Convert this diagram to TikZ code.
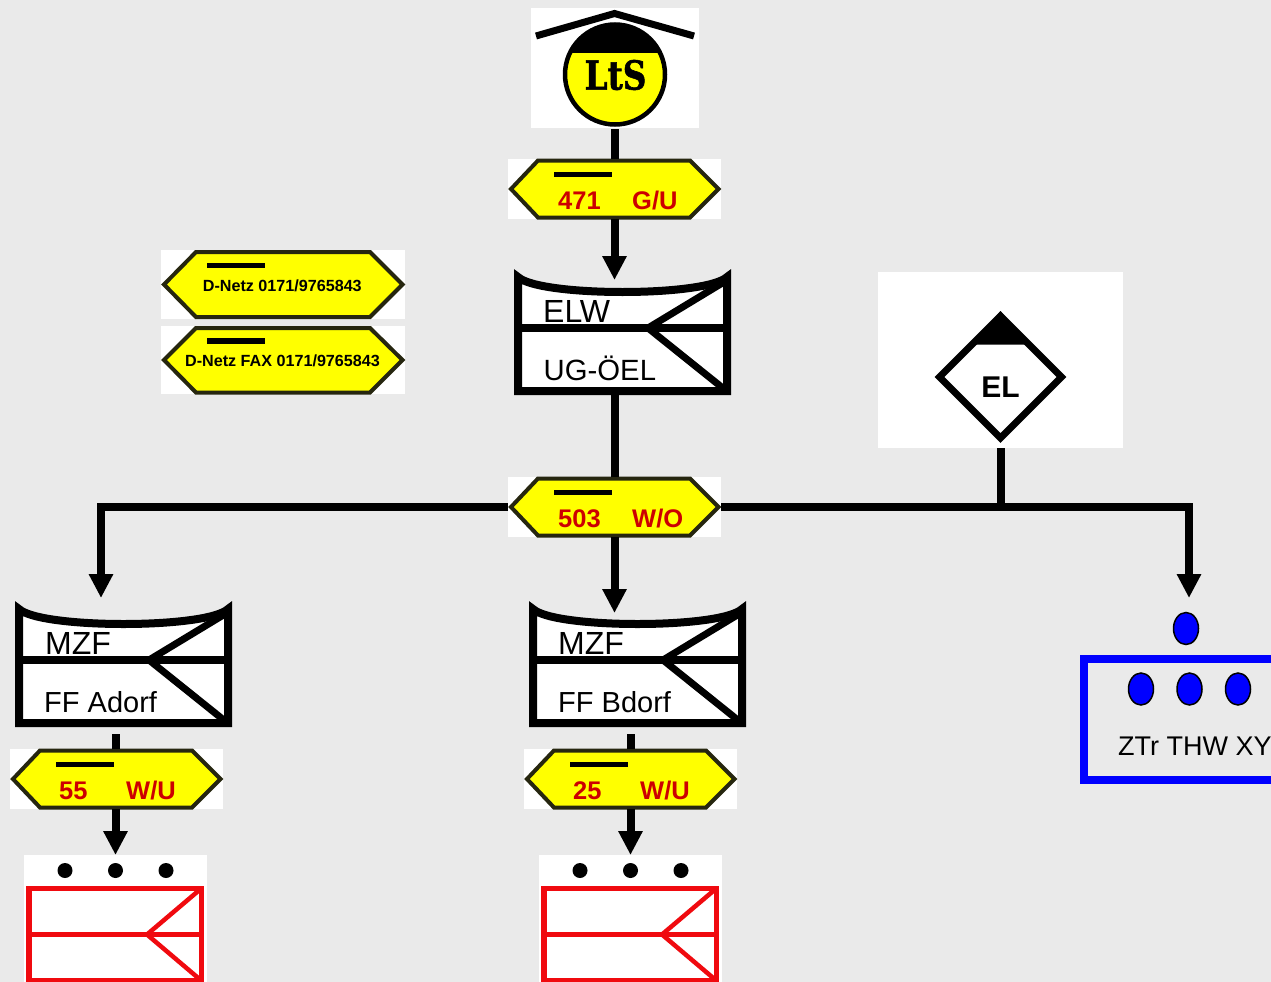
\documentclass[tikz,border=0pt]{standalone}
\usepackage{fontspec}
\setmainfont{Liberation Sans}
\newfontfamily\ltsfont[BoldFeatures={FakeBold=1.5}]{DejaVu Serif}
\usetikzlibrary{arrows.meta,shapes.geometric}
\definecolor{bg}{HTML}{EAEAEA}
\definecolor{signyellow}{HTML}{FFFF00}
\definecolor{signred}{HTML}{CC0000}
\definecolor{signedge}{HTML}{26260F}
\definecolor{tacred}{HTML}{F00A0F}
\definecolor{tacblue}{HTML}{0000FF}
\newcommand{\fs}[1]{\fontsize{#1}{#1}\selectfont}
\tikzset{
  x=1pt,y=-1pt,
  panel/.style={rectangle,fill=white,inner sep=0pt,outer sep=0pt},
  conn/.style={line width=8pt,black},
  arrowconn/.style={conn,line join=miter,-{Triangle[length=24pt,width=23pt]}},
  signedgeline/.style={draw=signedge,fill=signyellow,line width=4pt,line join=miter},
  signbar/.style={line width=5.5pt,black},
  signtext/.style={inner sep=0pt,anchor=base west,text=signred,font=\fs{25.5}\bfseries},
  phonetext/.style={inner sep=0pt,font=\fs{16.15}\bfseries,text=black},
  tactext/.style={inner sep=0pt,anchor=base west,font=\fs{32},text=black},
  blackdot/.style={circle,fill=black,inner sep=0pt,minimum size=15pt},
  bluedot/.style={ellipse,draw=black,fill=tacblue,line width=1.5pt,inner sep=0pt,minimum width=25pt,minimum height=32pt},
}
% sign: name, left, top of a 213x60 white panel
\newcommand{\signplate}[3]{%
  \node[panel,minimum width=213pt,minimum height=60pt,anchor=north west] (#1) at (#2,#3) {};
  \begin{scope}[shift={(#2,#3)}]
    \path[signedgeline] (3,30) -- (30,1.5) -- (182,1.5) -- (210.5,30) -- (182,58.5) -- (30,58.5) -- cycle;
    \draw[signbar] (46,15.5) -- (104,15.5);
  \end{scope}}
% tactical box: name, dx, dy relative to the ELW box
\newcommand{\tacbox}[3]{%
  \node[rectangle,inner sep=0pt,outer sep=0pt,minimum width=217pt,minimum height=124pt,anchor=north west] (#1) at (514+#2,271+#3) {};
  \begin{scope}[shift={(#2,#3)}]
    \path[fill=white] (518,277) .. controls (540,297) and (705,297) .. (727,277) -- (727,391) -- (518,391) -- cycle;
    \draw[line width=8pt,black,line join=miter,miter limit=10] (518,277) .. controls (540,297) and (705,297) .. (727,277) -- (727,391) -- (518,391) -- cycle;
    \draw[line width=7.5pt,black] (518,328) -- (727,328);
    \draw[line width=7pt,black,line join=miter] (724,282) -- (648,328) -- (724,389);
  \end{scope}}
% red box: name, dx
\newcommand{\redbox}[2]{%
  \node[panel,minimum width=183pt,minimum height=127pt,anchor=north west] (#1) at (24+#2,855) {};
  \begin{scope}[shift={(#2,0)}]
    \node[blackdot] (#1d1) at (65,870.5) {};
    \node[blackdot] (#1d2) at (115.5,870.5) {};
    \node[blackdot] (#1d3) at (166,870.5) {};
    \draw[line width=5.5pt,tacred,line join=miter] (29,888.5) -- (201.5,888.5) -- (201.5,980.5) -- (29,980.5) -- cycle;
    \draw[line width=4.5pt,tacred] (29,934.5) -- (201.5,934.5);
    \draw[line width=4.5pt,tacred,line join=miter] (200,889.5) -- (147,934.5) -- (200,979.5);
  \end{scope}}
\begin{document}
\begin{tikzpicture}
\useasboundingbox (0,0) rectangle (1271,982);
\clip (0,0) rectangle (1271,982);
\fill[bg] (0,0) rectangle (1271,982);

% logo
\node[panel,minimum width=168pt,minimum height=120pt,anchor=north west] (logo) at (531,8) {};
\draw[line width=7pt,black,line join=miter] (536,36) -- (614.5,13.5) -- (694,36);
\begin{scope}
  \path[clip] (615,74.5) circle[radius=50];
  \fill[signyellow] (560,20) rectangle (670,130);
  \fill[black] (560,20) rectangle (670,53.5);
\end{scope}
\draw[line width=4.5pt,black] (615,74.5) circle[radius=50];
\node[inner sep=0pt,text=black] (ltstext) at (615.5,75) {\scalebox{0.82}[1]{\ltsfont\fs{40}\bfseries LtS}};

% signs
\signplate{s471}{508}{159}
\node[signtext] (t471a) at (558,209.5) {471};
\node[signtext] (t471b) at (632,209.5) {G/U};
\signplate{s503}{508}{477}
\node[signtext] (t503a) at (558,527.5) {503};
\node[signtext] (t503b) at (632,527.5) {W/O};
\signplate{s55}{10}{749}
\node[signtext] (t55a) at (59,799.5) {55};
\node[signtext] (t55b) at (126,799.5) {W/U};
\signplate{s25}{524}{749}
\node[signtext] (t25a) at (573,799.5) {25};
\node[signtext] (t25b) at (640,799.5) {W/U};

% phone signs
\node[panel,minimum width=244pt,minimum height=69pt,anchor=north west] (dnetz) at (161,250) {};
\path[signedgeline] (164,284.5) -- (196,252) -- (370,252) -- (402.5,284.5) -- (370,317) -- (196,317) -- cycle;
\draw[signbar] (207,265.5) -- (265,265.5);
\node[phonetext] (dnetzt) at (282.3,285.5) {D-Netz 0171/9765843};
\node[panel,minimum width=244pt,minimum height=68pt,anchor=north west] (dfax) at (161,326) {};
\path[signedgeline] (164,360) -- (196,328) -- (370,328) -- (402.5,360) -- (370,392.5) -- (196,392.5) -- cycle;
\draw[signbar] (207,341) -- (265,341);
\node[phonetext] (dfaxt) at (282.5,361) {D-Netz FAX 0171/9765843};

% tactical boxes
\tacbox{elw}{0}{0}
\node[tactext] (elwa) at (543,322) {ELW};
\node[tactext,font=\fs{29.3}] (elwb) at (543.5,380) {UG-ÖEL};
\tacbox{mzfa}{-499}{332}
\node[tactext] (mzfat) at (45,654) {MZF};
\node[tactext,font=\fs{29}] (mzfab) at (44,712) {FF Adorf};
\tacbox{mzfb}{15}{332}
\node[tactext] (mzfbt) at (558,654) {MZF};
\node[tactext,font=\fs{29}] (mzfbb) at (558,712) {FF Bdorf};

% red boxes
\redbox{rota}{0}
\redbox{rotb}{515}

% EL
\node[panel,minimum width=245pt,minimum height=176pt,anchor=north west] (elpanel) at (878,272) {};
\fill[black] (1000.5,311) -- (1027,344.5) -- (974,344.5) -- cycle;
\draw[line width=7pt,black,line join=miter] (1000.5,316) -- (1061.5,377) -- (1000.5,438) -- (939.5,377) -- cycle;
\node[inner sep=0pt,font=\fs{30}\bfseries] (eltext) at (1000.5,387) {EL};

% blue unit
\node[bluedot] (dot0) at (1186,628.5) {};
\draw[line width=8pt,tacblue] (1300,659) -- (1084,659) -- (1084,779.5) -- (1300,779.5);
\node[bluedot] (dot1) at (1141,689) {};
\node[bluedot] (dot2) at (1189.5,689) {};
\node[bluedot] (dot3) at (1238,689) {};
\node[inner sep=0pt,anchor=base west,font=\fs{27}] (ztr) at (1118,755) {ZTr THW XY};

% connectors
\coordinate (tipL) at (101,598);
\coordinate (tipR) at (1189,598);
\draw[conn] ([yshift=-1pt]logo.south) -- (logo.south |- s471.north);
\draw[arrowconn] (s471.south) -- ([yshift=-9pt]s471.south |- elw.north);
\draw[conn] (s503.north) -- (s503.north |- elw.south);
\draw[arrowconn] (s503.west) -| (tipL);
\draw[arrowconn] (s503.east) -| (tipR);
\draw[conn] (elpanel.south) -- (elpanel.south |- s503.east);
\draw[arrowconn] (s503.south) -- ([yshift=-10pt]s503.south |- mzfb.north);
\draw[conn] (rota.north |- s55.north) -- +(0,-15);
\draw[conn] (rotb.north |- s25.north) -- +(0,-15);
\draw[arrowconn] (rota.north |- s55.south) -- (rota.north);
\draw[arrowconn] (rotb.north |- s25.south) -- (rotb.north);
\end{tikzpicture}
\end{document}
